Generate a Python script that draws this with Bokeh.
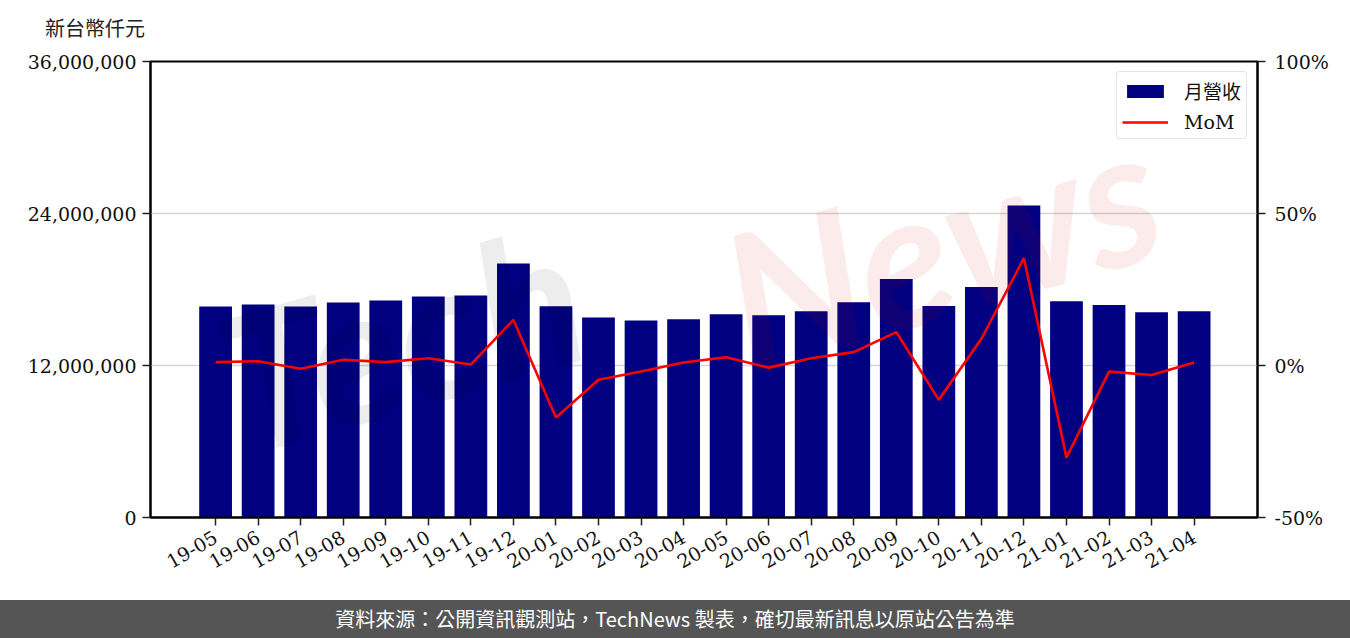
import math
from bokeh.plotting import figure
from bokeh.models import (Range1d, LinearAxis, FixedTicker, NumeralTickFormatter,
                          Legend, LegendItem, Label, Div, ColumnDataSource)
from bokeh.layouts import column
from bokeh.embed import file_html
from bokeh.resources import INLINE

# ---- data ----
months = ["19-05", "19-06", "19-07", "19-08", "19-09", "19-10", "19-11", "19-12",
          "20-01", "20-02", "20-03", "20-04", "20-05", "20-06", "20-07", "20-08",
          "20-09", "20-10", "20-11", "20-12", "21-01", "21-02", "21-03", "21-04"]
revenue = [16660000, 16820000, 16660000, 16970000, 17130000, 17450000, 17530000, 20050000,
           16680000, 15790000, 15550000, 15660000, 16050000, 15970000, 16290000, 17000000,
           18820000, 16690000, 18190000, 24630000, 17080000, 16770000, 16210000, 16290000]
mom = [1.1, 1.4, -1.1, 1.9, 1.1, 2.4, 0.3, 15.0,
       -17.1, -4.7, -2.0, 1.0, 2.7, -0.7, 2.4, 4.4,
       11.0, -11.3, 8.8, 35.3, -30.3, -2.0, -3.1, 1.0]
y_ticks = [0, 12000000, 24000000, 36000000]
pct_ticks = [-50, 0, 50, 100]
pct_labels = ["-50%", "0%", "50%", "100%"]
unit_label = "新台幣仟元"
legend_labels = ["月營收", "MoM"]
footer_text = "資料來源：公開資訊觀測站，TechNews 製表，確切最新訊息以原站公告為準"

n = len(months)
src = ColumnDataSource(dict(x=list(range(n)), revenue=revenue, mom=mom))

SERIF = "'DejaVu Serif', 'Noto Sans CJK TC'"
FS = "19px"

p = figure(width=1350, height=560, output_backend="svg", toolbar_location=None,
           x_range=Range1d(-1.53, n - 1 + 1.49), y_range=Range1d(0, 36000000),
           min_border_left=150, min_border_right=93, min_border_top=21, min_border_bottom=83,
           background_fill_color="white", border_fill_color="white", margin=0)
p.extra_y_ranges = {"mom": Range1d(-50, 100)}
p.outline_line_color = "black"
p.outline_line_width = 2
p.outline_line_alpha = 1

# left axis
yax = p.yaxis[0]
yax.ticker = FixedTicker(ticks=y_ticks)
yax.formatter = NumeralTickFormatter(format="0,0")
# bottom axis
xax = p.xaxis[0]
xax.ticker = FixedTicker(ticks=list(range(n)))
xax.major_label_overrides = {i: m for i, m in enumerate(months)}
xax.major_label_orientation = math.pi / 6
# right axis
rax = LinearAxis(y_range_name="mom", ticker=FixedTicker(ticks=pct_ticks),
                 major_label_overrides={t: l for t, l in zip(pct_ticks, pct_labels)})
p.add_layout(rax, "right")

for ax in (yax, xax, rax):
    ax.axis_line_color = "black"
    ax.axis_line_width = 2
    ax.major_tick_line_color = "#222222"
    ax.major_tick_line_width = 1.5
    ax.major_tick_out = 8
    ax.major_tick_in = 0
    ax.minor_tick_line_color = None
    ax.major_label_text_font = SERIF
    ax.major_label_text_font_size = FS
    ax.major_label_text_color = "#111111"
yax.major_label_standoff = 6
rax.major_label_standoff = 9
xax.major_label_standoff = 10

p.xgrid.visible = False
p.ygrid.ticker = FixedTicker(ticks=y_ticks)
p.ygrid.grid_line_color = "#d6d6d6"
p.ygrid.grid_line_width = 1.5

bars = p.vbar(x="x", top="revenue", width=0.77, source=src,
              fill_color="#000080", line_color=None)
line = p.line(x="x", y="mom", source=src, y_range_name="mom",
              line_color="#ff0000", line_width=2.6)

# faint watermark (kept fully inside the plot frame)
wm1 = Label(x=250, y=182, x_units="screen", y_units="screen", text="Tech",
            text_font="Lato", text_font_style="bold italic", text_font_size="190px",
            text_color="#000000", text_alpha=0.07, angle=0.28,
            text_align="center", text_baseline="middle")
wm2 = Label(x=790, y=275, x_units="screen", y_units="screen", text="News",
            text_font="Lato", text_font_style="bold italic", text_font_size="190px",
            text_color="#c80000", text_alpha=0.08, angle=0.28,
            text_align="center", text_baseline="middle")
p.add_layout(wm1)
p.add_layout(wm2)

legend = Legend(items=[LegendItem(label=legend_labels[0], renderers=[bars]),
                       LegendItem(label=legend_labels[1], renderers=[line])],
                location="top_right", margin=10, padding=5, spacing=7,
                glyph_width=46, glyph_height=16, label_height=20, label_standoff=16,
                label_text_font=SERIF, label_text_font_size=FS, label_text_color="#111111",
                border_line_color="#cccccc", border_line_width=1.5, border_radius=4,
                background_fill_alpha=0.9)
p.add_layout(legend)

header = Div(text=unit_label, width=1350, height=40, margin=0,
             styles={"font-family": "'Noto Sans CJK TC'", "font-size": "20px",
                     "color": "#222222", "line-height": "20px", "padding-left": "45px",
                     "padding-top": "18px", "box-sizing": "border-box",
                     "background-color": "white"})

footer = Div(text=footer_text, width=1350, height=38, margin=0,
             styles={"background-color": "#555555", "color": "white",
                     "font-family": "'Noto Sans CJK TC'", "font-size": "20px",
                     "text-align": "center", "line-height": "38px"})

layout = column(header, p, footer, spacing=0, margin=0)
open("out.html", "w").write(file_html(layout, INLINE))
